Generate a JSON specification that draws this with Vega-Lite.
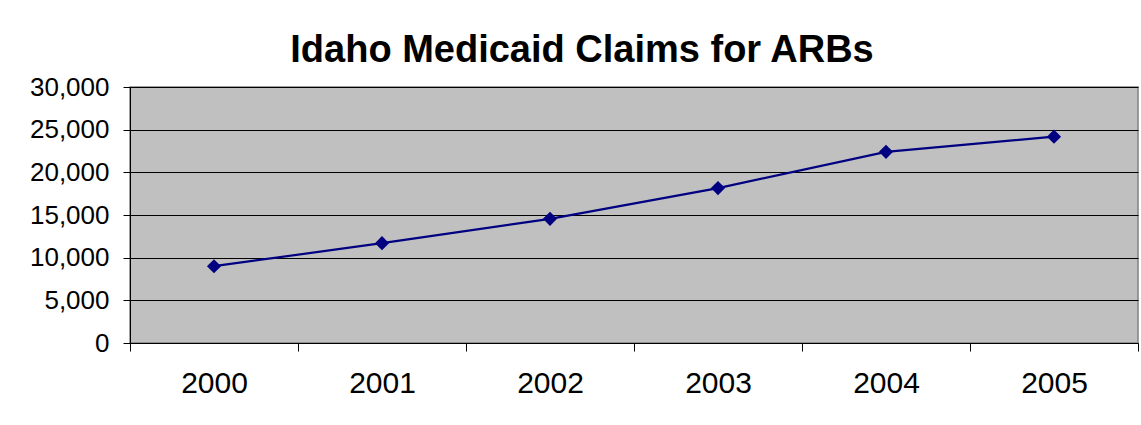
{
  "$schema": "https://vega.github.io/schema/vega-lite/v6.json",
  "autosize": {"type": "none"},
  "padding": {"left": 130, "top": 87, "right": 3, "bottom": 82},
  "width": 1008,
  "height": 256,
  "background": "white",
  "title": {
    "text": "Idaho Medicaid Claims for ARBs",
    "font": "Liberation Sans",
    "fontSize": 38,
    "fontWeight": "bold",
    "color": "black",
    "anchor": "middle",
    "frame": "group",
    "baseline": "alphabetic",
    "dx": -52,
    "dy": 40,
    "offset": 14
  },
  "data": {
    "values": [
      {"year": 2000, "claims": 9000},
      {"year": 2001, "claims": 11700},
      {"year": 2002, "claims": 14550},
      {"year": 2003, "claims": 18150},
      {"year": 2004, "claims": 22400},
      {"year": 2005, "claims": 24180}
    ]
  },
  "config": {
    "view": {"fill": "#C0C0C0", "stroke": "#808080", "strokeWidth": 1.5},
    "axis": {"labelFont": "Liberation Sans", "labelColor": "black", "tickColor": "black", "domainColor": "black", "title": null}
  },
  "encoding": {
    "x": {
      "field": "year",
      "type": "quantitative",
      "scale": {"domain": [1999.5, 2005.5], "nice": false, "zero": false},
      "axis": {
        "values": [1999.5, 2000.5, 2001.5, 2002.5, 2003.5, 2004.5, 2005.5],
        "labelExpr": "datum.value < 2005 ? format(datum.value + 0.5, 'd') : ''",
        "labelOffset": 84,
        "labelFontSize": 30,
        "labelPadding": 17,
        "labelOverlap": false,
        "labelBound": false,
        "labelFlush": false,
        "tickSize": 8,
        "grid": false,
        "title": null
      }
    },
    "y": {
      "field": "claims",
      "type": "quantitative",
      "scale": {"domain": [0, 30000], "nice": false},
      "axis": {
        "values": [0, 5000, 10000, 15000, 20000, 25000, 30000],
        "format": ",d",
        "labelFontSize": 26,
        "labelPadding": 14,
        "tickSize": 7,
        "grid": true,
        "gridColor": "black",
        "gridWidth": 1,
        "gridOpacity": 1,
        "title": null
      }
    }
  },
  "layer": [
    {"mark": {"type": "line", "color": "#000080", "strokeWidth": 2.2}},
    {"mark": {"type": "point", "shape": "diamond", "filled": true, "color": "#000080", "size": 200, "opacity": 1}}
  ]
}
